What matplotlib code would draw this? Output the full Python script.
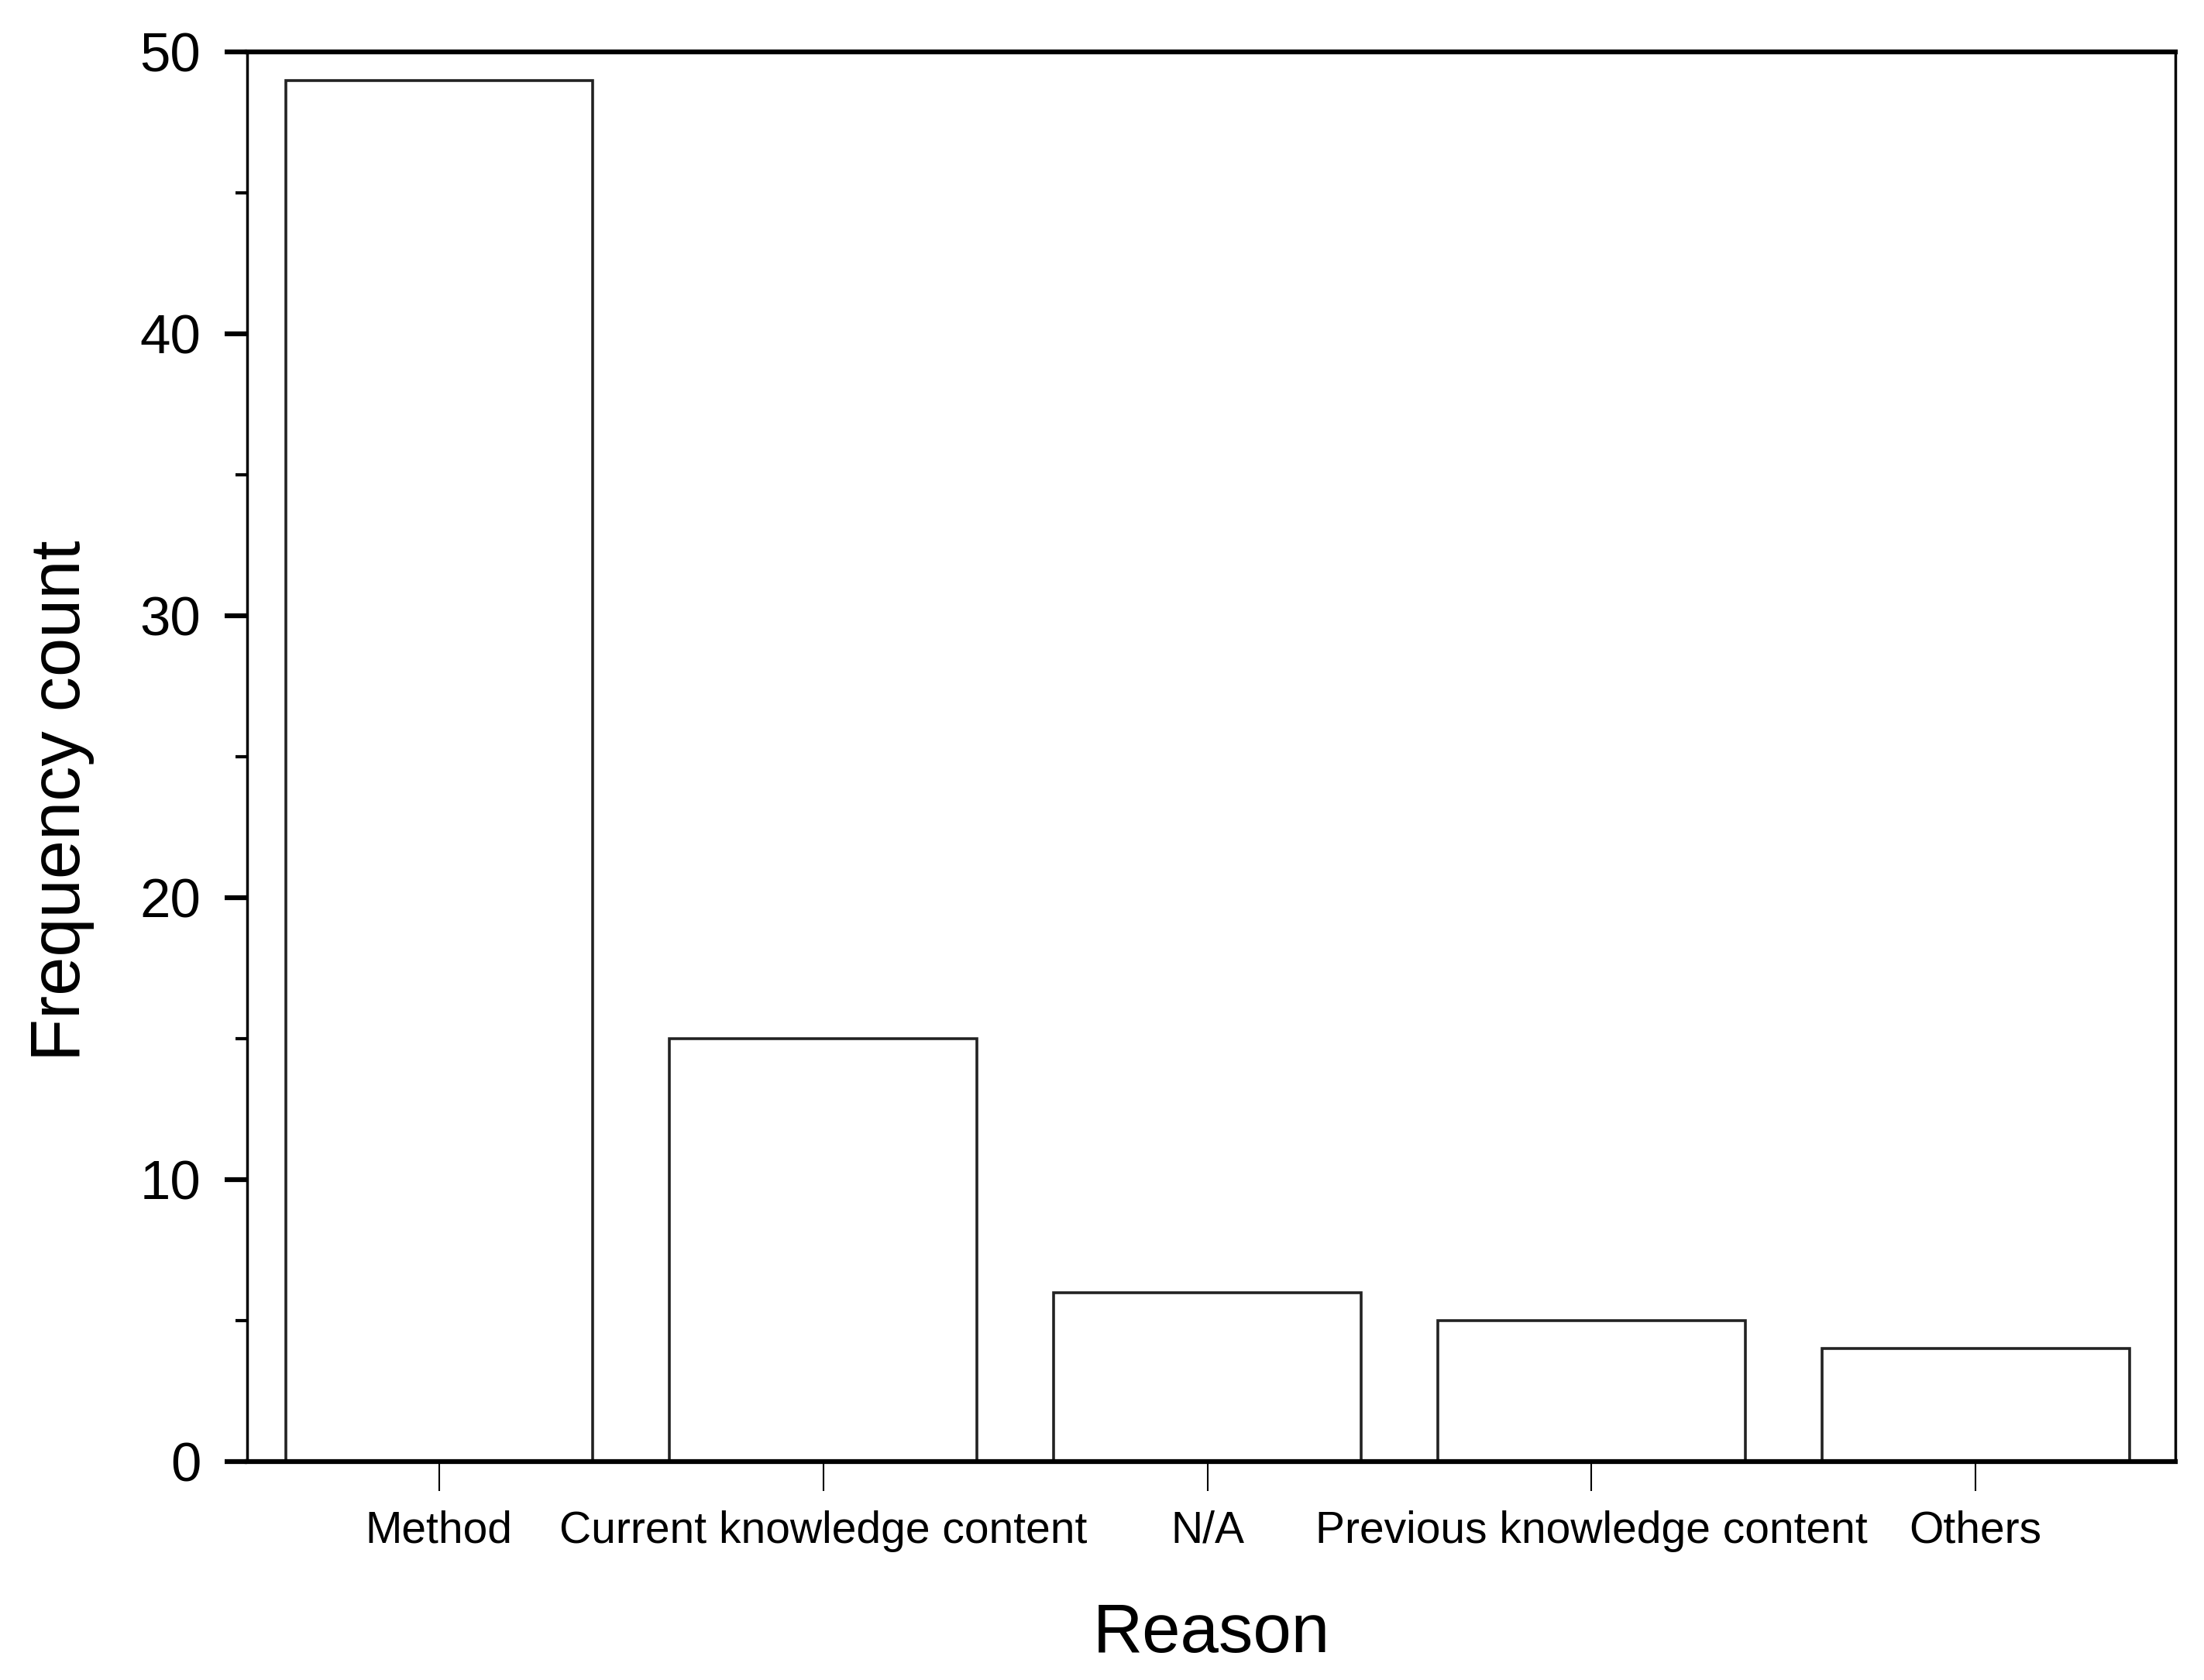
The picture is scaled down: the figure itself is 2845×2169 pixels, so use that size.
import matplotlib.pyplot as plt
from matplotlib.ticker import MultipleLocator

reasons = ["Method", "Current knowledge content", "N/A", "Previous knowledge content", "Others"]
counts = [49, 15, 6, 5, 4]

plt.rcParams['font.family'] = ['Liberation Sans', 'DejaVu Sans']

fig = plt.figure(figsize=(28.45, 21.69), dpi=100)
ax = fig.add_axes([0.1121, 0.130, 0.8749, 0.839])

x = range(len(reasons))
ax.bar(x, counts, width=0.8, color='white', edgecolor='#222222', linewidth=2.6)

ax.set_xlim(-0.5, 4.52)
ax.set_ylim(0, 50)
ax.set_xticks(list(x))
ax.set_xticklabels(reasons, fontsize=41)
ax.yaxis.set_major_locator(MultipleLocator(10))
ax.yaxis.set_minor_locator(MultipleLocator(5))
ax.tick_params(axis='y', which='major', direction='out', length=21, width=4.5, labelsize=51, pad=22)
ax.tick_params(axis='y', which='minor', direction='out', length=11, width=3)
ax.tick_params(axis='x', which='major', direction='out', length=27, width=1.5, pad=18)

ax.spines['top'].set_linewidth(4.5)
ax.spines['bottom'].set_linewidth(4.5)
ax.spines['left'].set_linewidth(2.5)
ax.spines['right'].set_linewidth(2.5)

ax.set_ylabel("Frequency count", fontsize=65)
ax.set_xlabel("Reason", fontsize=64)
ax.yaxis.set_label_coords(-0.079, 0.469)
ax.xaxis.set_label_coords(0.5, -0.0995)

fig.savefig("out.png", dpi=100)
